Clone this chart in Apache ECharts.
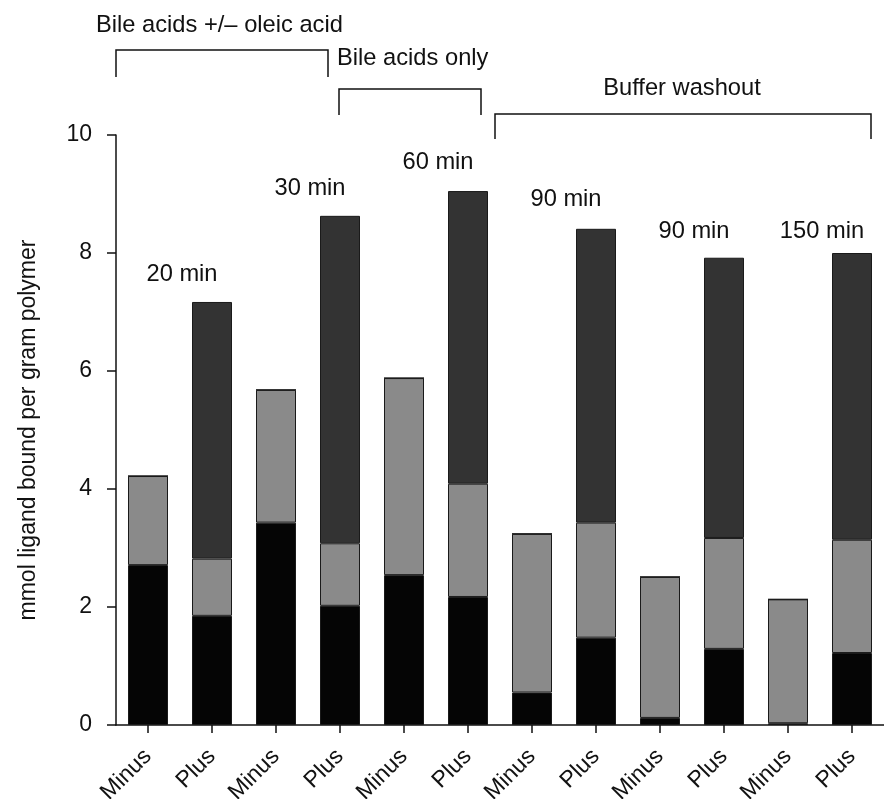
<!DOCTYPE html>
<html>
<head>
<meta charset="utf-8">
<script src="https://cdn.jsdelivr.net/npm/echarts@6/dist/echarts.min.js"></script>
<style>html,body{margin:0;padding:0;background:#fff}#c{width:884px;height:799px}</style>
</head>
<body>
<div id="c"></div>
<script>
// ---- data ----
const categories = ['Minus','Plus','Minus','Plus','Minus','Plus','Minus','Plus','Minus','Plus','Minus','Plus'];
const segBlack = [2.71, 1.85, 3.43, 2.02, 2.54, 2.17, 0.55, 1.48, 0.12, 1.29, 0.03, 1.22];
const segGray  = [1.51, 0.97, 2.25, 1.06, 3.34, 1.92, 2.69, 1.95, 2.39, 1.88, 2.10, 1.92];
const segDark  = [0, 4.35, 0, 5.55, 0, 4.96, 0, 4.98, 0, 4.75, 0, 4.86];
const yTicks = [0, 2, 4, 6, 8, 10];
const timeLabels = ['20 min', '30 min', '60 min', '90 min', '90 min', '150 min'];
const timeLabelLevels = [7.63, 9.10, 9.53, 8.90, 8.36, 8.36];
const groupLabels = ['Bile acids +/\u2013 oleic acid', 'Bile acids only', 'Buffer washout'];
const yTitle = 'mmol ligand bound per gram polymer';

const FONT = "'Liberation Sans', Arial, Helvetica, sans-serif";
const chart = echarts.init(document.getElementById('c'), null, {renderer: 'canvas'});

const barStyle = (color) => ({ color: color, borderColor: '#1a1a1a', borderWidth: 1 });

const option = {
  animation: false,
  backgroundColor: '#fff',
  grid: { left: 116, right: 0, top: 135, bottom: 74, containLabel: false, outerBoundsMode: 'none' },
  xAxis: {
    type: 'category',
    data: categories,
    axisLine: { show: true, lineStyle: { color: '#111', width: 1.5 } },
    axisTick: { show: true, alignWithLabel: true, length: 8, lineStyle: { color: '#111', width: 1.5 } },
    axisLabel: { rotate: 45, margin: 28, color: '#111', fontSize: 23, fontFamily: FONT, interval: 0 }
  },
  yAxis: {
    type: 'value',
    min: yTicks[0], max: yTicks[yTicks.length - 1], interval: 2,
    name: yTitle, nameLocation: 'middle', nameGap: 76, nameRotate: 90,
    nameTextStyle: { color: '#111', fontSize: 23, fontFamily: FONT },
    axisLine: { show: true, lineStyle: { color: '#111', width: 1.5 } },
    axisTick: { show: true, inside: false, length: 9, lineStyle: { color: '#111', width: 1.5 } },
    axisLabel: { color: '#111', fontSize: 23, fontFamily: FONT, margin: 24 },
    splitLine: { show: false }
  },
  series: [
    { type: 'bar', stack: 's', data: segBlack, barWidth: 40, itemStyle: barStyle('#050505') },
    { type: 'bar', stack: 's', data: segGray, barWidth: 40, itemStyle: barStyle('#8a8a8a') },
    { type: 'bar', stack: 's', data: segDark, barWidth: 40, itemStyle: barStyle('#333333') }
  ]
};
chart.setOption(option);

// ---- annotations ----
const g = [];
timeLabels.forEach((t, k) => {
  const x1 = chart.convertToPixel({ xAxisIndex: 0 }, 2 * k);
  const x2 = chart.convertToPixel({ xAxisIndex: 0 }, 2 * k + 1);
  const y = chart.convertToPixel({ yAxisIndex: 0 }, timeLabelLevels[k]);
  g.push({ type: 'text', x: (x1 + x2) / 2 + 2, y: y,
    style: { text: t, fill: '#111', font: '23.7px ' + FONT, textAlign: 'center', textVerticalAlign: 'middle' } });
});
const brackets = [
  { x1: 116, x2: 328, top: 50, bot: 77, tx: 96, ty: 25, align: 'left' },
  { x1: 339, x2: 481, top: 89, bot: 115, tx: 337, ty: 58, align: 'left' },
  { x1: 495, x2: 871, top: 114, bot: 139, tx: 682, ty: 88, align: 'center' }
];
brackets.forEach((b, i) => {
  g.push({ type: 'polyline', shape: { points: [[b.x1, b.bot], [b.x1, b.top], [b.x2, b.top], [b.x2, b.bot]] },
    style: { stroke: '#111', lineWidth: 1.5, fill: null } });
  g.push({ type: 'text', x: b.tx, y: b.ty,
    style: { text: groupLabels[i], fill: '#111', font: '23.7px ' + FONT, textAlign: b.align, textVerticalAlign: 'middle' } });
});
chart.setOption({ graphic: g });
</script>
</body>
</html>
